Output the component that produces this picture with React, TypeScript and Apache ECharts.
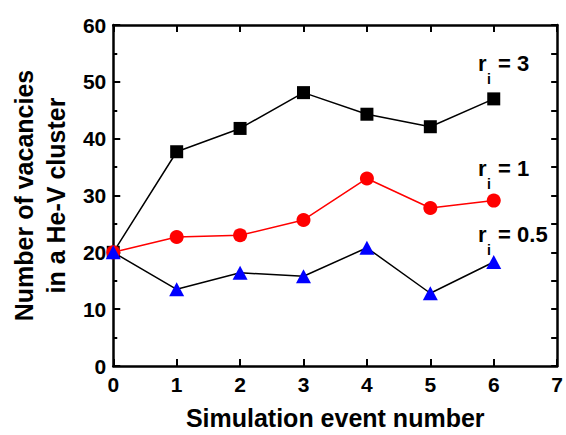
import React, { useEffect, useRef } from "react";
import * as echarts from "echarts";

const events = [0, 1, 2, 3, 4, 5, 6];
const r3Values = [20, 37.7, 41.8, 48.1, 44.3, 42.1, 47.0];
const r1Values = [20, 22.7, 23.0, 25.7, 33.0, 27.8, 29.1];
const r05Values = [20, 13.5, 16.4, 15.8, 20.8, 12.8, 18.3];
const seriesLabels = ["3", "1", "0.5"];

const FONT = "'Liberation Sans', Arial, sans-serif";

export default function App() {
  const ref = useRef<HTMLDivElement>(null);
  useEffect(() => {
    if (!ref.current) return;
    const chart = echarts.init(ref.current, undefined, { renderer: "svg" });
    const toPairs = (vals: number[]) => events.map((e, i) => [e, vals[i]]);
    const axisLine = { show: true, onZero: false, lineStyle: { color: "#000", width: 2.5 } };
    const labelText = (idx: number, y: number) => {
      const s = seriesLabels[idx];
      return {
        type: "group",
        children: [
          { type: "text", x: 478, y, style: { text: "r", font: `bold 22px ${FONT}`, fill: "#000", verticalAlign: "middle" } },
          { type: "text", x: 487, y: y + 16, style: { text: "i", font: `bold 14px ${FONT}`, fill: "#000", verticalAlign: "middle" } },
          { type: "text", x: 492, y, style: { text: " = " + s, font: `bold 22px ${FONT}`, fill: "#000", verticalAlign: "middle" } },
        ],
      };
    };
    chart.setOption({
      animation: false,
      backgroundColor: "#fff",
      grid: { left: 104, right: 5, top: 25, bottom: 65, containLabel: false },
      xAxis: [
        {
          type: "value", min: 0, max: 7, interval: 1, position: "bottom",
          axisLine,
          axisTick: { show: true, inside: true, length: 7, lineStyle: { color: "#000", width: 2 } },
          axisLabel: { color: "#000", fontFamily: FONT, fontWeight: "bold", fontSize: 21, margin: 8 },
          splitLine: { show: false },
          name: "Simulation event number", nameLocation: "middle", nameGap: 39,
          nameTextStyle: { color: "#000", fontFamily: FONT, fontWeight: "bold", fontSize: 25 },
        },
        {
          type: "value", min: 0, max: 7, interval: 1, position: "top",
          axisLine,
          axisTick: { show: true, inside: true, length: 7, lineStyle: { color: "#000", width: 2 } },
          axisLabel: { show: false },
          splitLine: { show: false },
        },
      ],
      yAxis: [
        {
          type: "value", min: 0, max: 60, interval: 10, position: "left",
          axisLine,
          axisTick: { show: true, inside: true, length: 7, lineStyle: { color: "#000", width: 2 } },
          minorTick: { show: true, splitNumber: 2, length: 4, lineStyle: { color: "#000", width: 2 } },
          axisLabel: { color: "#000", fontFamily: FONT, fontWeight: "bold", fontSize: 21, margin: 7 },
          splitLine: { show: false },
          minorSplitLine: { show: false },
          name: "Number of vacancies\nin a He-V cluster", nameLocation: "middle", nameGap: 36,
          nameTextStyle: { color: "#000", fontFamily: FONT, fontWeight: "bold", fontSize: 25, lineHeight: 32 },
        },
        {
          type: "value", min: 0, max: 60, interval: 5, position: "right",
          axisLine,
          axisTick: { show: true, inside: true, length: 6, lineStyle: { color: "#000", width: 2 } },
          axisLabel: { show: false },
          splitLine: { show: false },
        },
      ],
      series: [
        {
          name: "r_i = 3", type: "line", data: toPairs(r3Values),
          symbol: "rect", symbolSize: 13,
          lineStyle: { color: "#000", width: 1.5 },
          itemStyle: { color: "#000" },
        },
        {
          name: "r_i = 1", type: "line", data: toPairs(r1Values),
          symbol: "circle", symbolSize: 14,
          lineStyle: { color: "#ff0000", width: 1.5 },
          itemStyle: { color: "#ff0000" },
        },
        {
          name: "r_i = 0.5", type: "line", data: toPairs(r05Values),
          symbol: "triangle", symbolSize: [15, 14],
          lineStyle: { color: "#000", width: 1.5 },
          itemStyle: { color: "#0000ff" },
        },
      ],
      graphic: [labelText(0, 63), labelText(1, 168), labelText(2, 234)],
    });
    return () => chart.dispose();
  }, []);
  return <div ref={ref} style={{ position: "fixed", left: 0, top: 0, width: 566, height: 435 }} />;
}
